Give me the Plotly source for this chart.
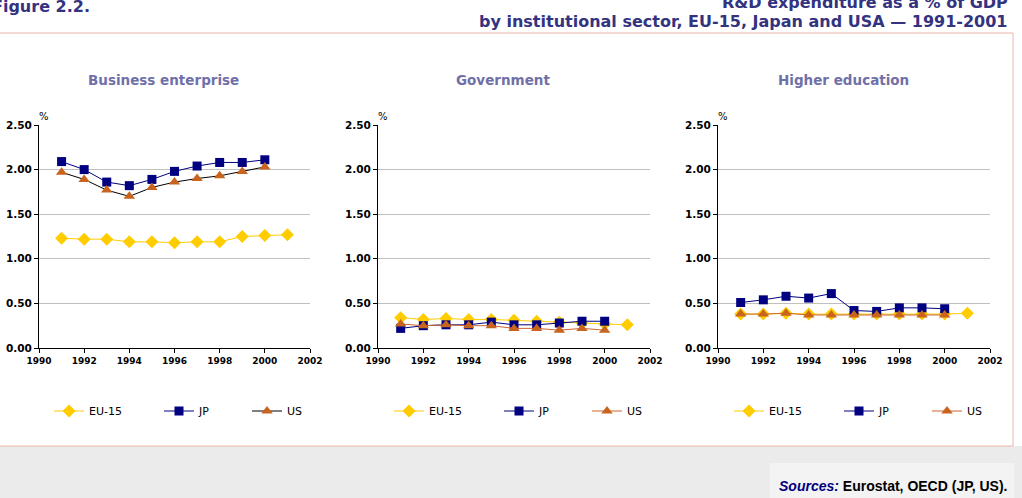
import plotly.graph_objects as go

W, H = 1022, 498

years_eu = [1991, 1992, 1993, 1994, 1995, 1996, 1997, 1998, 1999, 2000, 2001]
years_jp_us = [1991, 1992, 1993, 1994, 1995, 1996, 1997, 1998, 1999, 2000]

panel_titles = ["Business enterprise", "Government", "Higher education"]
series_names = ["EU-15", "JP", "US"]

# Business enterprise
bus_eu = [1.23, 1.22, 1.22, 1.19, 1.19, 1.18, 1.19, 1.19, 1.25, 1.26, 1.27]
bus_jp = [2.09, 2.00, 1.86, 1.82, 1.89, 1.98, 2.04, 2.08, 2.08, 2.11]
bus_us = [1.97, 1.89, 1.77, 1.70, 1.80, 1.86, 1.90, 1.93, 1.98, 2.03]

# Government
gov_eu = [0.34, 0.32, 0.33, 0.32, 0.32, 0.31, 0.30, 0.29, 0.28, 0.27, 0.26]
gov_jp = [0.22, 0.25, 0.26, 0.26, 0.29, 0.26, 0.26, 0.28, 0.30, 0.30]
gov_us = [0.27, 0.25, 0.26, 0.25, 0.25, 0.22, 0.22, 0.20, 0.22, 0.20]

# Higher education
hed_eu = [0.38, 0.38, 0.39, 0.38, 0.38, 0.38, 0.38, 0.38, 0.38, 0.38, 0.39]
hed_jp = [0.51, 0.54, 0.58, 0.56, 0.61, 0.42, 0.41, 0.45, 0.45, 0.44]
hed_us = [0.38, 0.38, 0.39, 0.37, 0.37, 0.37, 0.37, 0.37, 0.37, 0.37]

y_ticks = [0, 0.5, 1.0, 1.5, 2.0, 2.5]
x_ticks = [1990, 1992, 1994, 1996, 1998, 2000, 2002]

panels = [
    (bus_eu, bus_jp, bus_us, "#000000"),
    (gov_eu, gov_jp, gov_us, "#CC6633"),
    (hed_eu, hed_jp, hed_us, "#CC6633"),
]

EU_C = "#FFCC00"
JP_C = "#000080"
US_M = "#C8641E"

x_domains = [(39, 310), (378, 650), (718, 990)]
y_top, y_bot = 125, 348

fig = go.Figure()

def px(x):
    return x / W

def py(y):
    return 1 - y / H

leg_font = dict(family="Verdana, DejaVu Sans", size=11, color="#000000")
legend_layouts = {}
item_offsets = [52, 162, 250]

for i, (eu, jp, us, us_line) in enumerate(panels):
    xa = "x" if i == 0 else f"x{i+1}"
    ya = "y" if i == 0 else f"y{i+1}"
    specs = [
        (series_names[0], years_eu, eu, EU_C, EU_C, "diamond", 10),
        (series_names[1], years_jp_us, jp, JP_C, JP_C, "square", 9),
        (series_names[2], years_jp_us, us, us_line, US_M, "triangle-up", 10),
    ]
    for j, (nm, xs, ys, lc, mc, sym, ms) in enumerate(specs):
        lg_idx = i * 3 + j + 1
        lg = "legend" if lg_idx == 1 else f"legend{lg_idx}"
        fig.add_trace(go.Scatter(
            x=xs, y=ys, name=nm, mode="lines+markers",
            line=dict(color=lc, width=1),
            marker=dict(symbol=sym, size=ms, color=mc, line=dict(width=0)),
            xaxis=xa, yaxis=ya, legend=lg, showlegend=True,
        ))
        legend_layouts[lg] = dict(
            x=px(i * 340 + item_offsets[j] - 3), y=py(411),
            xanchor="left", yanchor="middle", orientation="h",
            bgcolor="rgba(0,0,0,0)", borderwidth=0, font=leg_font,
        )

layout_axes = {}
for i in range(3):
    xk = "xaxis" if i == 0 else f"xaxis{i+1}"
    yk = "yaxis" if i == 0 else f"yaxis{i+1}"
    x0, x1 = x_domains[i]
    layout_axes[xk] = dict(
        domain=[px(x0), px(x1)], range=[1990, 2002],
        tickvals=x_ticks, ticks="outside", ticklen=4, tickcolor="#000000",
        showline=True, linecolor="#000000", linewidth=1,
        showgrid=False, zeroline=False, automargin=False,
        tickfont=dict(family="DejaVu Sans", size=9, color="#000000", weight="bold"),
        anchor="y" if i == 0 else f"y{i+1}", fixedrange=True,
    )
    layout_axes[yk] = dict(
        domain=[py(y_bot), py(y_top)], range=[0, 2.5],
        tickvals=y_ticks, tickformat=".2f", ticks="outside", ticklen=4,
        tickcolor="#000000",
        showline=True, linecolor="#000000", linewidth=1,
        showgrid=True, gridcolor="#C0C0C0", gridwidth=1, zeroline=False,
        automargin=False,
        tickfont=dict(family="DejaVu Sans", size=10.5, color="#000000", weight="bold"),
        anchor="x" if i == 0 else f"x{i+1}", fixedrange=True,
    )

shapes = [
    dict(type="rect", xref="paper", yref="paper", x0=0, x1=1, y0=0, y1=py(446),
         fillcolor="#EBEBEB", line=dict(width=0), layer="below"),
    dict(type="rect", xref="paper", yref="paper", x0=px(-2), x1=px(1013),
         y0=py(446), y1=py(33), fillcolor="rgba(0,0,0,0)",
         line=dict(color="#E8B8A8", width=1), layer="below"),
    dict(type="rect", xref="paper", yref="paper", x0=px(770), x1=px(1014),
         y0=0, y1=py(463), fillcolor="#F3F3F3", line=dict(width=0), layer="below"),
]

hdr_font = dict(family="DejaVu Sans", size=16, color="#333380", weight="bold")
annotations = [
    dict(text="Figure 2.2.", x=px(-10), y=py(7), xref="paper", yref="paper",
         xanchor="left", yanchor="middle", showarrow=False, font=hdr_font),
    dict(text="R&D expenditure as a % of GDP", x=px(1010), y=py(3), xref="paper",
         yref="paper", xanchor="right", yanchor="middle", showarrow=False,
         font=hdr_font),
    dict(text="by institutional sector, EU-15, Japan and USA \u2014 1991-2001",
         x=px(1009), y=py(22), xref="paper", yref="paper", xanchor="right",
         yanchor="middle", showarrow=False, font=hdr_font),
    dict(text="<span style='color:#000080'><i>Sources:</i></span> Eurostat, OECD (JP, US).",
         x=px(1009), y=py(486), xref="paper", yref="paper", xanchor="right",
         yanchor="middle", showarrow=False,
         font=dict(family="Liberation Sans, Arial", size=14, color="#000000",
                   weight="bold")),
]
for i, t in enumerate(panel_titles):
    x0, x1 = x_domains[i]
    annotations.append(dict(
        text=t, x=px(i * 340 + 163), y=py(80), xref="paper", yref="paper",
        xanchor="center", yanchor="middle", showarrow=False,
        font=dict(family="DejaVu Sans", size=13.5, color="#7070A8", weight="bold")))
    annotations.append(dict(
        text="%", x=px(x0 + 5), y=py(116), xref="paper", yref="paper",
        xanchor="center", yanchor="middle", showarrow=False,
        font=dict(family="DejaVu Sans", size=10, color="#000000")))

fig.update_layout(
    width=W, height=H, margin=dict(l=0, r=0, t=0, b=0),
    paper_bgcolor="#FFFFFF", plot_bgcolor="rgba(0,0,0,0)",
    template="none", showlegend=True,
    shapes=shapes, annotations=annotations,
    **layout_axes, **legend_layouts,
)

fig.write_html("out.html")
